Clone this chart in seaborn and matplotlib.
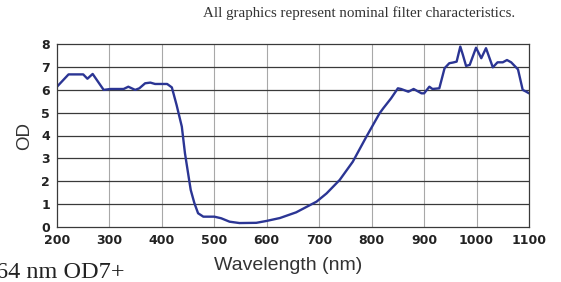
import numpy as np
import pandas as pd
import matplotlib
matplotlib.use("Agg")
import matplotlib.pyplot as plt
import seaborn as sns

wavelength = [200, 222, 250, 258, 268, 289, 302, 327, 336, 349, 357, 368, 378, 387,
              410, 419, 428, 438, 444, 451, 455, 462, 469, 479, 500, 513, 529, 548,
              580, 599, 625, 656, 695, 714, 739, 764, 790, 815, 822, 837, 850, 856,
              870, 880, 895, 900, 910, 916, 929, 939, 948, 955, 962, 969, 974, 980,
              987, 999, 1009, 1018, 1031, 1040, 1050, 1058, 1066, 1079, 1088, 1094, 1100]
od = [6.14, 6.68, 6.68, 6.49, 6.70, 6.00, 6.04, 6.04, 6.14, 6.00, 6.07, 6.29, 6.32, 6.26,
      6.26, 6.11, 5.34, 4.39, 3.22, 2.19, 1.61, 1.03, 0.59, 0.44, 0.44, 0.37, 0.22, 0.16,
      0.17, 0.25, 0.38, 0.63, 1.10, 1.46, 2.05, 2.85, 3.95, 4.97, 5.19, 5.63, 6.07, 6.04,
      5.92, 6.04, 5.85, 5.85, 6.14, 6.04, 6.07, 6.95, 7.17, 7.20, 7.24, 7.90, 7.53, 7.05,
      7.10, 7.85, 7.39, 7.83, 6.99, 7.21, 7.21, 7.31, 7.21, 6.90, 6.00, 5.93, 5.85]

x_ticks = list(range(200, 1101, 100))
y_ticks = list(range(0, 9))

df = pd.DataFrame({"wl": wavelength, "od": od})

sns.set_style("white")
plt.rcParams["font.family"] = ["Liberation Sans", "DejaVu Sans"]

fig = plt.figure(figsize=(5.61, 2.82), dpi=100)
ax = fig.add_axes([57 / 561, 1 - 226.7 / 282, 472 / 561, 182.4 / 282])

sns.lineplot(data=df, x="wl", y="od", ax=ax, color="#2b3594", linewidth=1.7)

ax.set_xlim(200, 1100)
ax.set_ylim(0, 8)
ax.set_xticks(x_ticks)
ax.set_yticks(y_ticks)
for v in x_ticks[1:-1]:
    ax.axvline(v, color="#a8a8a8", lw=0.8, zorder=0)
for v in y_ticks[1:-1]:
    ax.axhline(v, color="#3a3a3a", lw=0.9, zorder=0)
for s in ax.spines.values():
    s.set_color("#3a3a3a")
    s.set_linewidth(0.9)

ax.tick_params(axis="both", length=3, width=0.8, color="#3a3a3a", pad=2,
               labelsize=9, labelcolor="#222222")
for lab in ax.get_xticklabels() + ax.get_yticklabels():
    lab.set_fontweight("bold")
    lab.set_family("DejaVu Sans")

ax.set_xlabel("Wavelength (nm)", fontsize=14, color="#333333")
ax.xaxis.set_label_coords(0.49, -0.165)
ax.set_ylabel("OD", fontsize=13.5, color="#333333", labelpad=6)

fig.text(515 / 561, 1 - 13 / 282, "All graphics represent nominal filter characteristics.",
         ha="right", va="center", fontsize=10.8, color="#333333",
         family=["Liberation Serif", "DejaVu Serif"])
fig.text(-4 / 561, 1 - 278 / 282, "64 nm OD7+", ha="left", va="baseline",
         fontsize=17.5, color="#222222", family=["Liberation Serif", "DejaVu Serif"])

fig.savefig("out.png", dpi=100)
